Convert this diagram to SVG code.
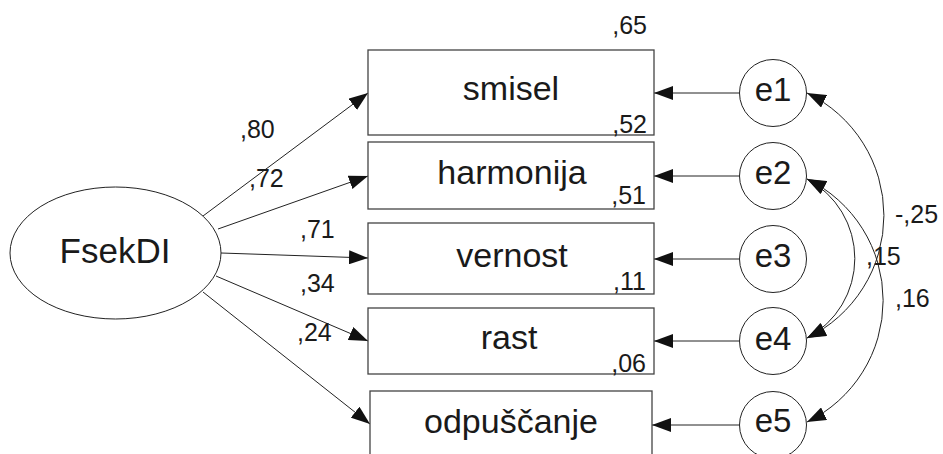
<svg xmlns="http://www.w3.org/2000/svg" width="943" height="454" viewBox="0 0 943 454">
<style>
text{font-family:"Liberation Sans",Arial,sans-serif;fill:#1a1a1a}
.lbl{font-size:34px;text-anchor:middle}
.el{font-size:33px;text-anchor:middle}
.num{font-size:25px}
.end{text-anchor:end}
.box{fill:#fff;stroke:#444;stroke-width:1.3}
.node{fill:#fff;stroke:#222;stroke-width:1}
.con{fill:none;stroke:#222;stroke-width:1}
</style>
<defs>
<marker id="ah" markerUnits="userSpaceOnUse" viewBox="0 0 19 14" refX="19" refY="7" markerWidth="19" markerHeight="14" orient="auto-start-reverse">
<path d="M0,0 L19,7 L0,14 z" fill="#111"/>
</marker>
</defs>
<rect width="943" height="454" fill="#fff"/>
<g id="connectors">
<line class="con" x1="203" y1="216" x2="368" y2="93" marker-end="url(#ah)"/>
<line class="con" x1="218" y1="229" x2="368" y2="176" marker-end="url(#ah)"/>
<line class="con" x1="221" y1="253" x2="368" y2="258" marker-end="url(#ah)"/>
<line class="con" x1="216" y1="276" x2="368" y2="341" marker-end="url(#ah)"/>
<line class="con" x1="203" y1="292" x2="370" y2="424" marker-end="url(#ah)"/>
<line class="con" x1="739" y1="93" x2="654" y2="93" marker-end="url(#ah)"/>
<line class="con" x1="739" y1="176" x2="654" y2="176" marker-end="url(#ah)"/>
<line class="con" x1="739" y1="259" x2="654" y2="259" marker-end="url(#ah)"/>
<line class="con" x1="739" y1="341" x2="654" y2="341" marker-end="url(#ah)"/>
<line class="con" x1="739" y1="425" x2="652" y2="425" marker-end="url(#ah)"/>
<path class="con" d="M807,93 A136,136 0 0 1 807,338" marker-start="url(#ah)" marker-end="url(#ah)"/>
<path class="con" d="M807,179 A90,90 0 0 1 807,338" marker-start="url(#ah)" marker-end="url(#ah)"/>
<path class="con" d="M807,179 A135,135 0 0 1 807,422" marker-start="url(#ah)" marker-end="url(#ah)"/>
<text class="num" x="240" y="138">,80</text>
<text class="num" x="249" y="187">,72</text>
<text class="num" x="300" y="238">,71</text>
<text class="num" x="300" y="292">,34</text>
<text class="num" x="297" y="341">,24</text>
<text class="num" x="895" y="223">-,25</text>
<text class="num" x="866" y="265">,15</text>
<text class="num" x="895" y="307">,16</text>
</g>
<g id="FsekDI">
<ellipse class="node" cx="115.5" cy="253" rx="105.5" ry="66"/>
<text x="115" y="263" style="font-size:35px;text-anchor:middle">FsekDI</text>
</g>
<g id="smisel">
<rect class="box" x="368" y="50" width="286" height="85"/>
<text class="lbl" x="511" y="100">smisel</text>
<text class="num end" x="647" y="34">,65</text>
<text class="num end" x="647" y="133">,52</text>
</g>
<g id="harmonija">
<rect class="box" x="368" y="142" width="286" height="67"/>
<text class="lbl" x="512" y="184">harmonija</text>
<text class="num end" x="646" y="204">,51</text>
</g>
<g id="vernost">
<rect class="box" x="368" y="223" width="286" height="71"/>
<text class="lbl" x="512" y="267">vernost</text>
<text class="num end" x="646" y="290">,11</text>
</g>
<g id="rast">
<rect class="box" x="368" y="308" width="286" height="66"/>
<text class="lbl" x="509" y="349">rast</text>
<text class="num end" x="646" y="372">,06</text>
</g>
<g id="odpuscanje">
<rect class="box" x="370" y="391" width="282" height="70"/>
<text class="lbl" x="511" y="433">odpuščanje</text>
</g>
<g id="e1"><circle class="node" cx="773" cy="93" r="33.5"/><text class="el" x="773" y="101">e1</text></g>
<g id="e2"><circle class="node" cx="773" cy="176" r="33.5"/><text class="el" x="773" y="184">e2</text></g>
<g id="e3"><circle class="node" cx="773" cy="259" r="33.5"/><text class="el" x="773" y="267">e3</text></g>
<g id="e4"><circle class="node" cx="773" cy="341" r="33.5"/><text class="el" x="773" y="350">e4</text></g>
<g id="e5"><circle class="node" cx="773" cy="425" r="33.5"/><text class="el" x="773" y="432">e5</text></g>
</svg>
